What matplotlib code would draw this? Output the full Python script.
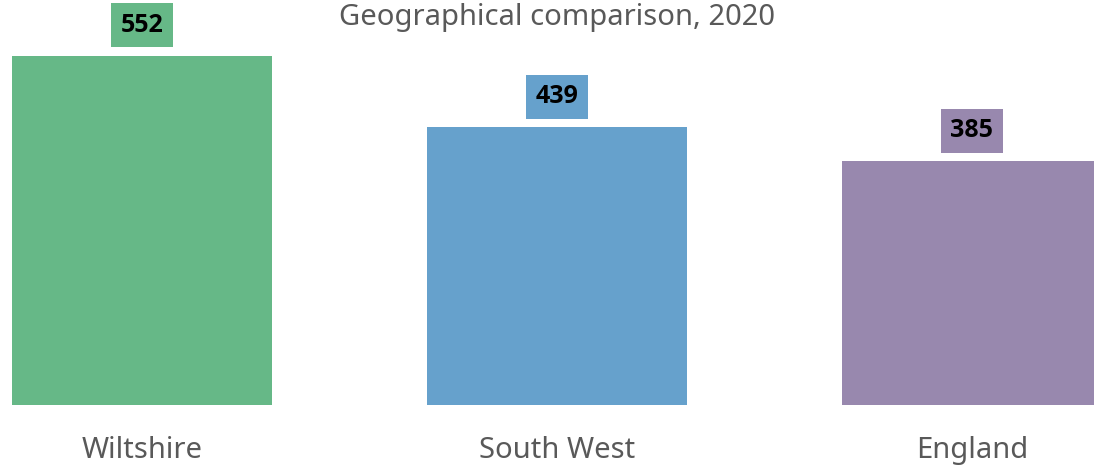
import matplotlib.pyplot as plt

# данные
areas = ['Wiltshire', 'South West', 'England']
values = [552, 439, 385]
colors = ['#66b887', '#66a1cc', '#9888ae']
title = 'Geographical comparison, 2020'

plt.rcParams['font.family'] = ['Noto Sans', 'DejaVu Sans']

fig = plt.figure(figsize=(10.94, 4.65), dpi=100)
ax = fig.add_axes([12 / 1094, 60 / 465, 1086 / 1094, 405 / 465])

x = list(range(len(areas)))
ax.bar(x, values, width=0.627, color=colors)

# подписи значений в цветных рамках (жирный шрифт берём из Open Sans)
for xi, v, c in zip(x, values, colors):
    ax.annotate(str(v), (xi, v), xytext=(0, 22), textcoords='offset points',
                ha='center', va='center', fontsize=18, fontweight='bold',
                family=['Open Sans', 'DejaVu Sans'], color='black',
                bbox=dict(boxstyle='square,pad=0.38', fc=c, ec='none'))

ax.set_xlim(-0.313, 2.304)
ax.set_ylim(0, 640)
ax.set_xticks(x)
ax.set_xticklabels(areas, fontsize=21, color='#595959')
ax.tick_params(axis='x', length=0, pad=22)
ax.set_yticks([])
for s in ax.spines.values():
    s.set_visible(False)

fig.text(557 / 1094, 1 - 18 / 465, title, ha='center', va='center',
         fontsize=21, color='#595959')

fig.savefig('out.png', dpi=100)
